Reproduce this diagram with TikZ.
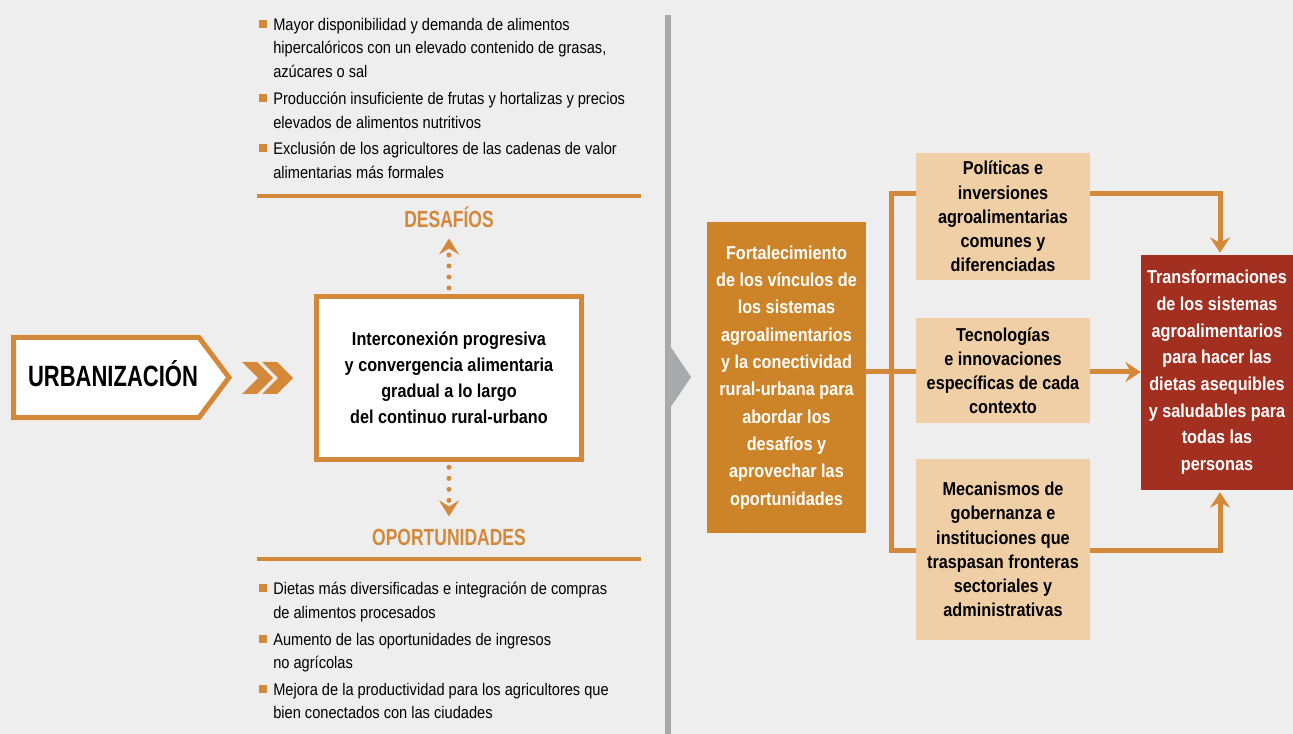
\documentclass[tikz,border=0pt]{standalone}
\usepackage{fontspec}
\setmainfont[FakeStretch=0.87]{Liberation Sans}
\newfontfamily\headfont[FakeStretch=0.75]{Liberation Sans}
\usetikzlibrary{positioning, arrows.meta, calc}
\usepackage{xcolor}
\definecolor{bggray}{HTML}{EEEEEE}
\definecolor{fao}{HTML}{D3883A}
\definecolor{ochre}{HTML}{CD8428}
\definecolor{peach}{HTML}{F0CFA7}
\definecolor{brick}{HTML}{A22F20}
\definecolor{divider}{HTML}{A7A9AC}
\tikzset{
    item/.style={
        anchor=north west,
        align=left,
        inner sep=0pt,
        font=\fontsize{12.6}{17.6}\selectfont
    },
    itemmark/.style={
        rectangle,
        fill=fao,
        inner sep=0pt,
        minimum size=5.3pt
    },
    heading/.style={
        anchor=base,
        inner sep=0pt,
        text=fao,
        font=\headfont\bfseries\fontsize{17.5}{20}\selectfont
    },
    mainbox/.style={
        draw=fao,
        line width=3.75pt,
        fill=white,
        minimum width=198.75pt,
        minimum height=122.25pt,
        align=center,
        font=\bfseries\fontsize{14}{19.5}\selectfont
    },
    peachbox/.style={
        fill=peach,
        minimum width=130.5pt,
        align=center,
        font=\bfseries\fontsize{14}{18.1}\selectfont
    },
    conn/.style={
        draw=fao,
        line width=3.75pt
    },
    dotlink/.style={
        draw=fao,
        line width=3.75pt,
        line cap=round,
        dash pattern=on 0pt off 8.25pt,
        -{Stealth[length=12pt,width=15pt,inset=4.5pt]}
    }
}

\begin{document}
\begin{tikzpicture}[x=0.75pt,y=-0.75pt,
        tip/.style={-{Stealth[length=11.5pt,width=15pt,inset=4pt]}}
      ]
      \useasboundingbox (0,0) rectangle (1293,734);
      \fill[bggray] (0,0) rectangle (1293,734);

      % divider
      \fill[divider] (665,15) rectangle (671,734);
      \fill[divider] (668,343) -- (691,377) -- (668,411) -- cycle;

      % urbanizacion
      \draw[fao, line width=3.75pt, fill=white, line join=miter]
        (13.5,337.5) -- (199,337.5) -- (229,377.5) -- (199,417.5) -- (13.5,417.5) -- cycle;
      \node[anchor=base, inner sep=0pt, font=\headfont\bfseries\fontsize{22}{24}\selectfont]
        (urb) at (113,387) {URBANIZACIÓN};
      \fill[fao] (242,362) -- (257,362) -- (273,378) -- (257,394) -- (242,394) -- (258,378) -- cycle;
      \fill[fao] (262,362) -- (277,362) -- (293,378) -- (277,394) -- (262,394) -- (278,378) -- cycle;

      % centre
      \node[mainbox] (inter) at (449,378) {Interconexión progresiva\\ y convergencia alimentaria\\ gradual a lo largo\\ del continuo rural-urbano};
      \node[heading] (desaf) at (449,228) {DESAFÍOS};
      \node[heading] (oport) at (449,545) {OPORTUNIDADES};
      \draw[dotlink, shorten <=4.5pt, shorten >=7.5pt] (inter.north) -- (desaf.south);
      \draw[dotlink, shorten <=4pt, shorten >=9pt] (inter.south) -- (oport.north);
      \draw[fao, line width=2.6pt] (257,196) -- (641,196);
      \draw[fao, line width=2.6pt] (257,559) -- (641,559);

      % desafios
      \node[item] (d1) at (273,18) {Mayor disponibilidad y demanda de alimentos\\ hipercalóricos con un elevado contenido de grasas,\\ azúcares o sal};
      \node[item] (d2) at (273,92) {Producción insuficiente de frutas y hortalizas y precios\\ elevados de alimentos nutritivos};
      \node[item] (d3) at (273,142) {Exclusión de los agricultores de las cadenas de valor\\ alimentarias más formales};
      \node[itemmark] at (263,24) {};
      \node[itemmark] at (263,98) {};
      \node[itemmark] at (263,148) {};

      % oportunidades
      \node[item] (o1) at (273,582) {Dietas más diversificadas e integración de compras\\ de alimentos procesados};
      \node[item] (o2) at (273,633) {Aumento de las oportunidades de ingresos\\ no agrícolas};
      \node[item] (o3) at (273,683) {Mejora de la productividad para los agricultores que\\ bien conectados con las ciudades};
      \node[itemmark] at (263,588) {};
      \node[itemmark] at (263,639) {};
      \node[itemmark] at (263,689) {};

      % right part
      \node[fill=ochre, text=white, minimum width=119.25pt, minimum height=233.25pt,
        align=center, font=\bfseries\fontsize{14}{20.5}\selectfont]
        (fort) at (786.5,377.5) {Fortalecimiento\\ de los vínculos de\\ los sistemas\\ agroalimentarios\\ y la conectividad\\ rural-urbana para\\ abordar los\\ desafíos y\\ aprovechar las\\ oportunidades};
      \node[peachbox, minimum height=95.25pt] (pol) at (1003,216.5) {Políticas e\\ inversiones\\ agroalimentarias\\ comunes y\\ diferenciadas};
      \node[peachbox, minimum height=78.75pt] (tec) at (1003,370.5) {Tecnologías\\ e innovaciones\\ específicas de cada\\ contexto};
      \node[peachbox, minimum height=135.75pt] (mec) at (1003,549.5) {Mecanismos de\\ gobernanza e\\ instituciones que\\ traspasan fronteras\\ sectoriales y\\ administrativas};
      \node[fill=brick, text=white, minimum width=114pt, minimum height=176.25pt,
        align=center, font=\bfseries\fontsize{14}{20}\selectfont]
        (trans) at (1217,372.5) {Transformaciones\\ de los sistemas\\ agroalimentarios\\ para hacer las\\ dietas asequibles\\ y saludables para\\ todas las\\ personas};

      \coordinate (jtop) at (891,194);
      \coordinate (jmid) at (891,372);
      \coordinate (jbot) at (891,550);
      \coordinate (ktop) at (1220,194);
      \coordinate (kbot) at (1220,550);

      \draw[conn] (pol.west |- jtop) -- (jtop) -- (jbot) -- (mec.west |- jbot);
      \draw[conn] (fort.east |- jmid) -- (tec.west |- jmid);
      \draw[conn, tip] (tec.east |- jmid) -- (trans.west |- jmid);
      \draw[conn, tip] (pol.east |- ktop) -- (ktop) -- ([yshift=1.5pt]ktop |- trans.north);
      \draw[conn, tip] (mec.east |- kbot) -- (kbot) -- ([yshift=-1.5pt]kbot |- trans.south);

    \end{tikzpicture}
\end{document}
